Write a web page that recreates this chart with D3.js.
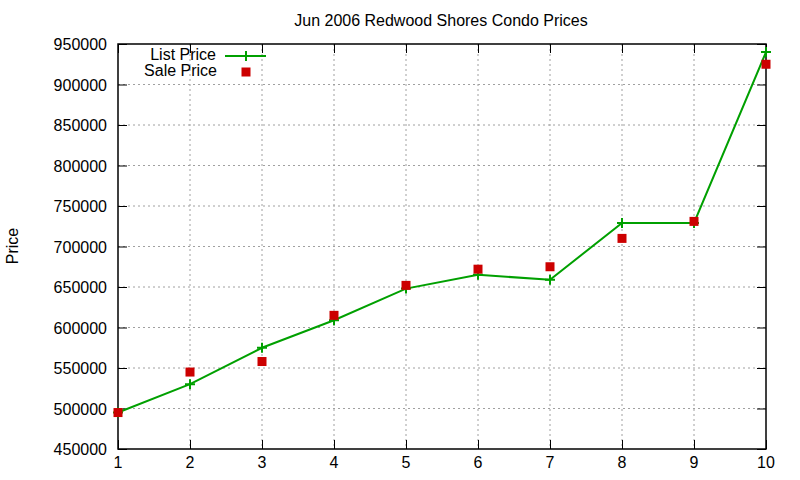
<!DOCTYPE html>
<html>
<head>
<meta charset="utf-8">
<script src="https://cdn.jsdelivr.net/npm/d3@7"></script>
<style>
  body { margin: 0; background: #fff; }
  text { font-family: "Liberation Sans", Arial, sans-serif; fill: #000; }
</style>
</head>
<body>
<div id="chart"></div>
<script>
'use strict';

const months = [1, 2, 3, 4, 5, 6, 7, 8, 9, 10];
const listPrice = [495000, 530000, 575000, 609000, 648000, 665000, 659000, 729000, 729000, 940000];
const salePrice = [495000, 545000, 558000, 615000, 652000, 672000, 675000, 710000, 731000, 925000];
const yTicks = [450000, 500000, 550000, 600000, 650000, 700000, 750000, 800000, 850000, 900000, 950000];

function buildChart() {
    const width = 800;
    const height = 480;
    const plotLeft = 118, plotRight = 766, plotTop = 44, plotBottom = 449;
    const green = '#00a000';
    const red = '#cc0000';

    const svg = d3.select('#chart')
        .append('svg')
            .attr('width', width)
            .attr('height', height);

    const x = d3.scaleLinear().domain([1, 10]).range([plotLeft, plotRight]);
    const y = d3.scaleLinear().domain([450000, 950000]).range([plotBottom, plotTop]);

    // grid
    svg.append('g')
        .selectAll('line')
        .data(yTicks.slice(1, -1))
        .enter().append('line')
            .attr('x1', plotLeft).attr('x2', plotRight)
            .attr('y1', d => y(d)).attr('y2', d => y(d))
            .attr('stroke', '#a0a0a0')
            .attr('stroke-dasharray', '2,3');

    svg.append('g')
        .selectAll('line')
        .data(months.slice(1, -1))
        .enter().append('line')
            .attr('x1', d => x(d)).attr('x2', d => x(d))
            .attr('y1', plotTop).attr('y2', plotBottom)
            .attr('stroke', '#a0a0a0')
            .attr('stroke-dasharray', '2,3');

    // ticks pointing inward on all four sides
    const tick = 9;
    svg.append('g')
        .attr('transform', `translate(${plotLeft},0)`)
        .call(d3.axisRight(y).tickValues(yTicks).tickSize(tick).tickFormat(''))
        .call(g => g.select('.domain').remove());
    svg.append('g')
        .attr('transform', `translate(${plotRight},0)`)
        .call(d3.axisLeft(y).tickValues(yTicks).tickSize(tick).tickFormat(''))
        .call(g => g.select('.domain').remove());
    svg.append('g')
        .attr('transform', `translate(0,${plotBottom})`)
        .call(d3.axisTop(x).tickValues(months).tickSize(tick).tickFormat(''))
        .call(g => g.select('.domain').remove());
    svg.append('g')
        .attr('transform', `translate(0,${plotTop})`)
        .call(d3.axisBottom(x).tickValues(months).tickSize(tick).tickFormat(''))
        .call(g => g.select('.domain').remove());

    svg.selectAll('.tick line').attr('stroke', '#000');

    svg.append('rect')
        .attr('x', plotLeft).attr('y', plotTop)
        .attr('width', plotRight - plotLeft).attr('height', plotBottom - plotTop)
        .attr('fill', 'none')
        .attr('stroke', '#000')
        .attr('stroke-width', 1.5);

    // tick labels
    svg.append('g')
        .selectAll('text')
        .data(yTicks)
        .enter().append('text')
            .attr('x', plotLeft - 11)
            .attr('y', d => y(d) + 6)
            .attr('text-anchor', 'end')
            .attr('font-size', 16)
            .text(d => d);

    svg.append('g')
        .selectAll('text')
        .data(months)
        .enter().append('text')
            .attr('x', d => x(d))
            .attr('y', 468)
            .attr('text-anchor', 'middle')
            .attr('font-size', 16)
            .text(d => d);

    svg.append('text')
        .attr('x', (plotLeft + plotRight) / 2 - 1)
        .attr('y', 26)
        .attr('text-anchor', 'middle')
        .attr('font-size', 16)
        .text('Jun 2006 Redwood Shores Condo Prices');

    svg.append('text')
        .attr('transform', `translate(18,246) rotate(-90)`)
        .attr('text-anchor', 'middle')
        .attr('font-size', 16)
        .text('Price');

    const listData = months.map((m, i) => ({ m, v: listPrice[i] }));
    const saleData = months.map((m, i) => ({ m, v: salePrice[i] }));

    svg.append('path')
        .datum(listData)
        .attr('fill', 'none')
        .attr('stroke', green)
        .attr('stroke-width', 2)
        .attr('d', d3.line().x(d => x(d.m)).y(d => y(d.v)));

    function drawPlus(sel, cx, cy) {
        sel.append('path')
            .attr('d', `M${cx - 5},${cy}H${cx + 5}M${cx},${cy - 5}V${cy + 5}`)
            .attr('stroke', green)
            .attr('stroke-width', 2);
    }

    listData.forEach(d => drawPlus(svg, x(d.m), y(d.v)));

    svg.append('g')
        .selectAll('rect')
        .data(saleData)
        .enter().append('rect')
            .attr('x', d => x(d.m) - 4.5)
            .attr('y', d => y(d.v) - 4.5)
            .attr('width', 9)
            .attr('height', 9)
            .attr('fill', red);

    // legend
    svg.append('text')
        .attr('x', 216).attr('y', 60)
        .attr('text-anchor', 'end')
        .attr('font-size', 16)
        .text('List Price');
    svg.append('line')
        .attr('x1', 225).attr('x2', 266)
        .attr('y1', 56).attr('y2', 56)
        .attr('stroke', green)
        .attr('stroke-width', 2);
    drawPlus(svg, 246, 56);

    svg.append('text')
        .attr('x', 217).attr('y', 76)
        .attr('text-anchor', 'end')
        .attr('font-size', 16)
        .text('Sale Price');
    svg.append('rect')
        .attr('x', 241.5).attr('y', 67.5)
        .attr('width', 9).attr('height', 9)
        .attr('fill', red);
}

buildChart();
</script>
</body>
</html>
